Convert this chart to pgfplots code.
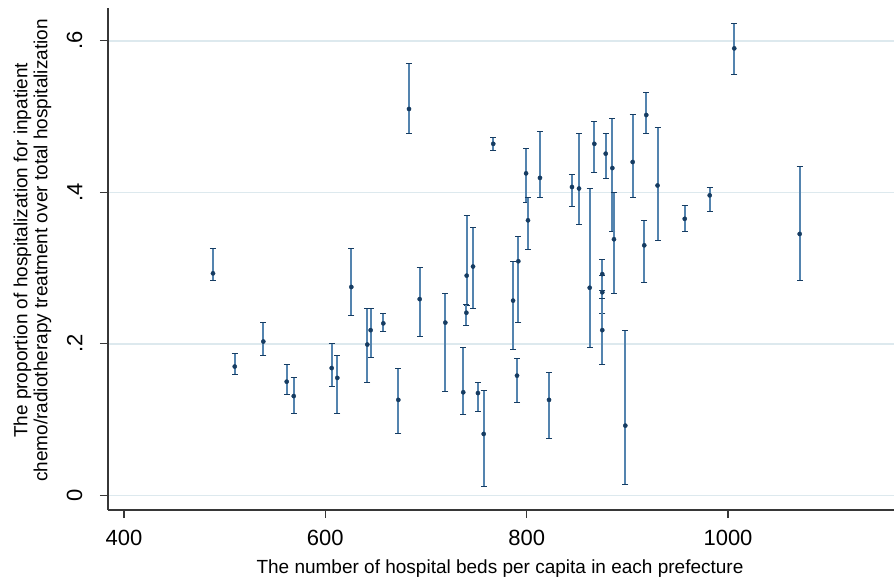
\documentclass[border=0pt]{standalone}
\usepackage{pgfplots}
\usepackage{pgfplotstable}
\pgfplotsset{compat=1.18}
\usepackage{fontspec}
\setmainfont{Liberation Sans}
\definecolor{barblue}{RGB}{84,132,175}
\definecolor{dotblue}{RGB}{22,60,98}
\definecolor{gridc}{RGB}{221,233,238}
\definecolor{axc}{RGB}{55,55,55}

\pgfplotstableread{
x y lo hi
488.4 0.293 0.284 0.326
510.0 0.170 0.159 0.187
538.4 0.203 0.185 0.228
561.6 0.150 0.133 0.173
568.6 0.131 0.108 0.155
606.3 0.168 0.143 0.201
611.9 0.155 0.108 0.184
625.8 0.275 0.238 0.326
641.7 0.199 0.149 0.247
645.0 0.218 0.182 0.247
657.6 0.227 0.216 0.240
672.5 0.126 0.081 0.167
683.1 0.510 0.477 0.570
693.7 0.259 0.209 0.301
719.2 0.228 0.137 0.266
737.0 0.136 0.107 0.195
740.4 0.290 0.251 0.369
740.1 0.241 0.224 0.252
746.7 0.302 0.247 0.354
751.6 0.135 0.111 0.149
757.3 0.081 0.012 0.138
766.8 0.464 0.455 0.473
786.5 0.257 0.192 0.308
790.4 0.158 0.122 0.181
791.7 0.309 0.228 0.342
799.4 0.425 0.386 0.458
801.3 0.363 0.325 0.393
813.2 0.419 0.393 0.480
822.2 0.126 0.075 0.162
845.0 0.407 0.381 0.424
852.0 0.405 0.357 0.477
862.6 0.274 0.195 0.405
867.2 0.464 0.426 0.493
875.1 0.292 0.270 0.311
875.1 0.268 0.240 0.290
875.1 0.218 0.173 0.260
878.5 0.451 0.418 0.478
885.1 0.432 0.348 0.497
886.7 0.338 0.267 0.400
898.0 0.092 0.014 0.218
905.3 0.440 0.393 0.503
916.8 0.330 0.281 0.363
918.8 0.502 0.478 0.532
930.0 0.409 0.336 0.485
957.0 0.365 0.348 0.382
981.8 0.396 0.374 0.406
1006.2 0.590 0.555 0.623
1071.2 0.345 0.283 0.434
}\data

\begin{document}
\begin{tikzpicture}[x=1pt,y=1pt]
\useasboundingbox (-108,-71) rectangle (788,510);
\begin{axis}[
  at={(0,0)}, anchor=south west, scale only axis,
  width=786pt, height=502pt,
  xmin=384.1, xmax=1164.9, ymin=-0.0194, ymax=0.6433,
  axis x line*=bottom, axis y line*=left,
  axis line style={-, line width=1.2pt, color=axc},
  xtick={400,600,800,1000},
  ytick={0,0.2,0.4,0.6}, yticklabels={0,.2,.4,.6},
  tick align=outside, major tick length=8pt,
  tick style={line width=1.2pt, color=axc},
  ymajorgrids, grid style={gridc, line width=1.5pt},
  /pgf/number format/assume math mode=true,
  /pgf/number format/1000 sep={},
  ticklabel style={font=\fontsize{22}{24}\selectfont, text=black},
  xticklabel style={anchor=north, yshift=-9pt},
  yticklabel style={xshift=-14pt, rotate=90, anchor=south},
  xlabel={The number of hospital beds per capita in each prefecture},
  xlabel style={at={(axis description cs:0.4987,0)}, anchor=base, yshift=-63pt, font=\fontsize{19}{22}\selectfont},
  ylabel={The proportion of hospitalization for inpatient\\chemo/radiotherapy treatment over total hospitalization},
  ylabel style={at={(axis description cs:-0.0675,0.517)}, anchor=south, align=center, font=\fontsize{19}{20}\selectfont},
  clip=false,
]
\addplot[only marks, mark=*, mark size=2.1pt, color=dotblue,
  error bars/.cd, y dir=both, y explicit,
  error bar style={color=barblue, line width=2pt},
  error mark options={color=dotblue, line width=1pt, mark size=3pt, rotate=90}]
  table[x=x, y=y, y error plus expr=\thisrow{hi}-\thisrow{y}, y error minus expr=\thisrow{y}-\thisrow{lo}] {\data};
\end{axis}
\end{tikzpicture}
\end{document}
